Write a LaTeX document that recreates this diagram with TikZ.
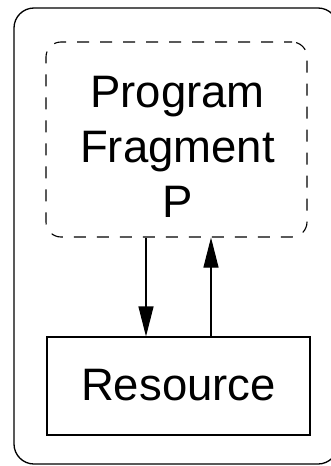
\documentclass[tikz,border=0pt]{standalone}
\usepackage{fontspec}
\setmainfont{Liberation Sans}
\usetikzlibrary{arrows.meta}
\begin{document}
\begin{tikzpicture}[x=1pt,y=1pt,
  box/.style={draw, line width=1.1pt, inner sep=0pt},
  dashbox/.style={box, dash pattern=on 12pt off 11pt, dash phase=4pt, rounded corners=15pt},
  bigtext/.style={font=\fontsize{45.5}{55}\selectfont, align=center, inner sep=0pt},
  arr/.style={line width=1.1pt, -{Triangle[length=30pt,width=15pt]}}]
\useasboundingbox (0,0) rectangle (331,-466);
\clip (0,0) rectangle (331,-466);
\fill[white] (0,0) rectangle (331,-466);
\node[draw, line width=1.3pt, rounded corners=20pt, minimum width=324pt, minimum height=456pt, inner sep=0pt] (outer) at (176,-236) {};
\node[dashbox, minimum width=261pt, minimum height=195pt] (prog) at (176.5,-139.5) {};
\node[bigtext, yshift=-7pt] (progtext) at ([xshift=1pt]prog.center) {Program\\Fragment\\P};
\node[box, bigtext, minimum width=263pt, minimum height=98pt] (res) at (178.5,-386) {\raisebox{1.5pt}{Resource}};
\coordinate (d1) at ([xshift=-30.5pt]prog.south);
\coordinate (u1) at ([xshift=34.5pt]prog.south);
\draw[arr] (d1) -- (d1 |- res.north);
\draw[arr] (u1 |- res.north) -- (u1);
\end{tikzpicture}
\end{document}
